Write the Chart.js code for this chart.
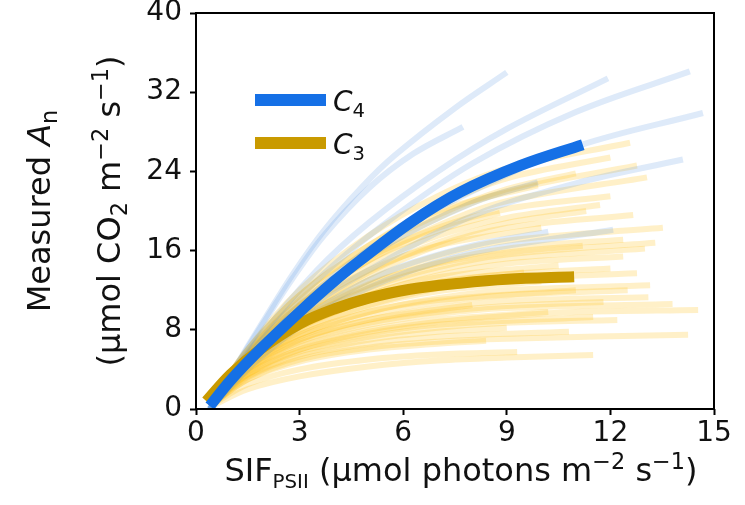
<!DOCTYPE html>
<html>
<head>
<meta charset="utf-8">
<script src="https://cdn.jsdelivr.net/npm/chart.js@4.4.1/dist/chart.umd.min.js"></script>
<style>
  html, body { margin: 0; padding: 0; background: #fff; }
  canvas { display: block; }
</style>
</head>
<body>
<canvas id="anChart" width="745" height="505"></canvas>
<script>
// tick positions
const xTicks = [0, 3, 6, 9, 12, 15];
const yTicks = [0, 8, 16, 24, 32, 40];

// group means, [SIF, An]
const c4Mean = [[0.4, 0.3], [1.0, 2.9], [1.85, 6.0], [3.0, 9.8], [4.0, 12.9], [4.75, 15.0], [6.2, 18.8], [7.65, 21.9], [9.4, 24.6], [11.2, 26.7]];
const c3Mean = [[0.3, 0.8], [1.0, 3.5], [1.85, 6.0], [3.0, 8.6], [4.0, 10.1], [5.0, 11.2], [6.2, 12.1], [7.65, 12.7], [9.0, 13.1], [10.95, 13.35]];

// single-leaf C4 curves
const c4Leaves = [
  [[0.4, 0], [1.2, 4.6], [1.9, 8.6], [2.8, 13.6], [3.7, 18.0], [4.8, 22.4], [5.75, 25.6], [7.5, 30.4], [9.0, 34.0]],
  [[0.4, 0], [1.2, 4.5], [1.9, 8.4], [2.8, 13.2], [3.7, 17.5], [5.0, 22.3], [6.3, 25.8], [7.73, 28.5]],
  [[0.4, 0], [1.8, 7.0], [3.5, 14.0], [5.0, 18.8], [7.0, 24.0], [9.0, 28.3], [11.93, 33.4]],
  [[0.4, 0], [1.8, 6.5], [3.5, 13.0], [5.5, 18.8], [8.0, 24.8], [11.0, 30.0], [14.3, 34.1]],
  [[0.4, 0], [1.8, 6.0], [3.5, 12.0], [5.5, 17.3], [8.0, 22.0], [11.0, 26.5], [14.68, 29.9]],
  [[0.4, 0], [1.8, 5.5], [3.5, 10.8], [5.5, 15.0], [8.0, 19.5], [11.0, 22.8], [14.1, 25.2]],
  [[0.4, 0], [1.8, 5.0], [3.5, 9.5], [5.5, 13.0], [8.0, 15.8], [12.08, 18.1]],
  [[0.4, 0], [1.8, 5.5], [3.5, 10.0], [5.5, 13.8], [8.0, 16.5], [10.2, 17.9]],
  [[0.4, 0], [1.8, 6.0], [3.5, 11.5], [5.5, 16.5], [8.0, 20.8], [9.9, 22.9]]
];

// single-leaf C3 curves
const c3Leaves = [
  [[0.4, 0.5], [1.5, 6.0], [3, 12.0], [5, 17.5], [7, 21.5], [9, 24.3], [12.57, 26.9]],
  [[0.4, 0.5], [1.5, 6.0], [3, 11.5], [5, 16.5], [7, 20.5], [9, 23.3], [12.0, 25.4]],
  [[0.4, 0.6], [1.5, 5.5], [3, 10.5], [5, 15.5], [7, 19.3], [9, 22.0], [12.77, 24.6]],
  [[0.4, 0.5], [1.5, 5.5], [3, 10.5], [5, 15.0], [7, 18.5], [9, 21.0], [13.06, 23.4]],
  [[0.4, 0.5], [1.5, 5.7], [3, 11.0], [5, 16.0], [7, 19.6], [9, 22.2], [11.0, 23.8]],
  [[0.4, 0.6], [1.5, 6.0], [3, 11.5], [5, 16.5], [7, 20.0], [9.9, 22.6]],
  [[0.4, 0.5], [1.5, 5.8], [3, 10.8], [5, 15.3], [7, 18.3], [9, 20.2], [12.0, 21.5]],
  [[0.4, 0.5], [1.5, 5.5], [3, 10.0], [5, 14.5], [7, 17.5], [9, 19.3], [11.7, 20.6]],
  [[0.4, 0.5], [1.5, 5.3], [3, 9.5], [5, 13.8], [7, 16.8], [9, 18.8], [11.3, 20.0]],
  [[0.4, 0.5], [1.5, 5.6], [3, 10.4], [5, 15.0], [7, 18.0], [8.8, 19.8]],
  [[0.4, 0.5], [1.5, 5.0], [3, 9.5], [5, 13.5], [7, 16.5], [9, 18.3], [12.66, 19.6]],
  [[0.4, 0.5], [1.5, 5.5], [3, 10.0], [5, 14.0], [7, 16.5], [10.0, 18.3]],
  [[0.4, 0.4], [1.5, 5.0], [3, 9.0], [5, 13.0], [7, 15.5], [9, 17.0], [13.52, 18.3]],
  [[0.4, 0.5], [1.5, 5.0], [3, 9.0], [5, 12.5], [7, 14.8], [9, 16.2], [12.37, 17.1]],
  [[0.4, 0.4], [1.5, 4.8], [3, 8.8], [5, 12.2], [7, 14.3], [9, 15.6], [13.3, 16.8]],
  [[0.4, 0.5], [1.5, 5.2], [3, 9.2], [5, 12.6], [7, 14.7], [9, 15.8], [11.2, 16.5]],
  [[0.4, 0.5], [1.5, 5.1], [3, 9.0], [5, 12.0], [7, 14.0], [9, 15.2], [13.0, 16.2]],
  [[0.4, 0.5], [1.5, 5.0], [3, 8.5], [5, 11.5], [7, 13.5], [9, 14.7], [12.37, 15.4]],
  [[0.4, 0.5], [1.5, 5.0], [3, 8.5], [5, 11.5], [7, 13.3], [10.5, 14.5]],
  [[0.4, 0.4], [1.5, 4.6], [3, 8.2], [5, 11.0], [7, 12.7], [9, 13.6], [12.0, 14.2]],
  [[0.4, 0.4], [1.5, 4.8], [3, 8.3], [5, 11.0], [7, 12.8], [9.5, 13.8]],
  [[0.4, 0.4], [1.5, 4.5], [3, 8.0], [5, 10.5], [7, 12.2], [9, 13.1], [12.77, 13.7]],
  [[0.4, 0.4], [1.5, 4.4], [3, 7.8], [5, 10.4], [7, 11.9], [10.0, 12.9]],
  [[0.4, 0.4], [1.5, 4.5], [3, 7.5], [5, 9.8], [7, 11.2], [9, 12.0], [13.15, 12.5]],
  [[0.4, 0.4], [1.5, 4.2], [3, 7.3], [5, 9.5], [7, 10.8], [9, 11.5], [12.5, 12.0]],
  [[0.4, 0.4], [1.5, 4.5], [3, 7.5], [5, 9.8], [7, 11.0], [11.0, 12.0]],
  [[0.4, 0.4], [1.5, 4.0], [3, 7.0], [5, 9.0], [7, 10.2], [9, 10.9], [13.1, 11.3]],
  [[0.4, 0.4], [1.5, 4.0], [3, 6.8], [5, 8.7], [7, 9.8], [9, 10.4], [11.8, 10.8]],
  [[0.4, 0.3], [1.5, 3.9], [3, 6.6], [5, 8.5], [7, 9.6], [9, 10.2], [13.8, 10.6]],
  [[0.4, 0.4], [1.5, 4.2], [3, 7.0], [5, 9.0], [8.0, 10.5]],
  [[0.4, 0.3], [1.5, 3.5], [3, 6.0], [5, 7.8], [7, 8.8], [9, 9.4], [11, 9.8], [14.54, 10.0]],
  [[0.4, 0.3], [1.5, 3.8], [3, 6.3], [5, 8.0], [7, 9.0], [10.2, 9.8]],
  [[0.4, 0.3], [1.5, 3.6], [3, 6.0], [5, 7.6], [7, 8.5], [11.5, 9.3]],
  [[0.4, 0.3], [1.5, 3.5], [3, 5.8], [5, 7.3], [7, 8.2], [9, 8.7], [12.2, 9.0]],
  [[0.4, 0.3], [1.5, 3.3], [3, 5.5], [5, 7.0], [7, 7.8], [9.0, 8.2]],
  [[0.4, 0.3], [1.5, 3.2], [3, 5.3], [5, 6.6], [7, 7.3], [10.8, 7.8]],
  [[0.4, 0.3], [1.5, 3.0], [3, 5.0], [5, 6.2], [7, 6.8], [9, 7.1], [14.25, 7.5]],
  [[0.4, 0.3], [1.5, 3.0], [3, 4.8], [5, 6.0], [7, 6.6], [8.4, 6.9]],
  [[0.4, 0.3], [1.5, 2.5], [3, 4.0], [5, 5.0], [7, 5.5], [9.3, 5.75]],
  [[0.4, 0.2], [1.5, 2.0], [3, 3.3], [5, 4.3], [7, 4.9], [9, 5.2], [11.5, 5.45]]
];

const C4_COLOR = '#1570e6';
const C3_COLOR = '#c99a00';
const FONT = 'DejaVu Sans';
const TICK_SIZE = 28;
const TITLE_SIZE = 32;

function toPoints(arr) {
  return arr.map(p => ({ x: p[0], y: p[1] }));
}

function curve(arr, color, width, order) {
  return {
    data: toPoints(arr),
    showLine: true,
    borderColor: color,
    borderWidth: width,
    pointRadius: 0,
    tension: 0.35,
    order: order
  };
}

const datasets = [
  Object.assign(curve(c4Mean, C4_COLOR, 11, 0), { label: 'C4' }),
  Object.assign(curve(c3Mean, C3_COLOR, 11, 1), { label: 'C3' })
];
c4Leaves.forEach(l => datasets.push(curve(l, 'rgba(90,150,225,0.2)', 6, 2)));
c3Leaves.forEach(l => datasets.push(curve(l, 'rgba(255,192,25,0.24)', 6, 3)));

// text with italic / sub / superscript pieces, centred on x
function drawRich(ctx, parts, x, y, size) {
  const pieces = parts.map(p => {
    const s = p.sub || p.sup ? size * (p.small || 0.7) : size;
    const font = (p.italic ? 'italic ' : '') + s + 'px "' + FONT + '"';
    ctx.font = font;
    return { t: p.t, font: font, w: ctx.measureText(p.t).width,
             dy: p.sub ? size * 0.22 : (p.sup ? -size * 0.38 : 0) };
  });
  const total = pieces.reduce((s, p) => s + p.w, 0);
  let cx = x - total / 2;
  ctx.textAlign = 'left';
  ctx.textBaseline = 'alphabetic';
  pieces.forEach(p => {
    ctx.font = p.font;
    ctx.fillText(p.t, cx, y + p.dy);
    cx += p.w;
  });
}

const decorations = {
  id: 'decorations',
  afterDraw(chart) {
    const ctx = chart.ctx;
    const a = chart.chartArea;
    ctx.save();
    // frame
    ctx.strokeStyle = '#000';
    ctx.lineWidth = 2;
    ctx.strokeRect(a.left, a.top, a.right - a.left, a.bottom - a.top);

    ctx.fillStyle = '#111';
    // x title
    drawRich(ctx, [
      { t: 'SIF' }, { t: 'PSII', sub: true, small: 0.62 },
      { t: ' (µmol photons m' }, { t: '−2', sup: true }, { t: ' s' }, { t: '−1', sup: true }, { t: ')' }
    ], (a.left + a.right) / 2 + 6, 481, TITLE_SIZE);

    // y title, two lines
    const cy = (a.top + a.bottom) / 2;
    ctx.save();
    ctx.translate(50, cy);
    ctx.rotate(-Math.PI / 2);
    drawRich(ctx, [{ t: 'Measured ' }, { t: 'A', italic: true }, { t: 'n', sub: true }], 0, 0, TITLE_SIZE);
    ctx.restore();
    ctx.save();
    ctx.translate(120, cy);
    ctx.rotate(-Math.PI / 2);
    drawRich(ctx, [
      { t: '(µmol CO' }, { t: '2', sub: true }, { t: ' m' }, { t: '−2', sup: true },
      { t: ' s' }, { t: '−1', sup: true }, { t: ')' }
    ], 0, 0, TITLE_SIZE);
    ctx.restore();

    // legend
    const items = [
      { color: C4_COLOR, sub: '4', y: 100 },
      { color: C3_COLOR, sub: '3', y: 143 }
    ];
    items.forEach(it => {
      ctx.fillStyle = it.color;
      ctx.fillRect(255, it.y - 6, 71, 12);
      ctx.fillStyle = '#111';
      ctx.font = 'italic ' + TICK_SIZE + 'px "' + FONT + '"';
      ctx.textAlign = 'left';
      ctx.textBaseline = 'alphabetic';
      ctx.fillText('C', 333, it.y + 11);
      const w = ctx.measureText('C').width;
      ctx.font = (TICK_SIZE * 0.7) + 'px "' + FONT + '"';
      ctx.fillText(it.sub, 333 + w, it.y + 11 + TICK_SIZE * 0.22);
    });
    ctx.restore();
  }
};

const tickFont = { family: FONT, size: TICK_SIZE };

function noOverhang(s) {
  s.paddingTop = 0;
  s.paddingBottom = 0;
  s.paddingLeft = 0;
  s.paddingRight = 0;
}

new Chart(document.getElementById('anChart'), {
  type: 'scatter',
  data: { datasets: datasets },
  options: {
    responsive: false,
    devicePixelRatio: 1,
    animation: false,
    layout: { padding: { top: 13, right: 31, left: 0, bottom: 0 } },
    plugins: { legend: { display: false }, tooltip: { enabled: false } },
    scales: {
      x: {
        type: 'linear',
        min: 0, max: 15,
        afterBuildTicks: s => { s.ticks = xTicks.map(v => ({ value: v })); },
        afterFit: s => { s.height = 96; noOverhang(s); },
        border: { display: false },
        grid: { drawOnChartArea: false, drawTicks: true, tickLength: 6, tickWidth: 2, tickColor: '#000' },
        ticks: { font: tickFont, color: '#111', padding: 2, maxRotation: 0 }
      },
      y: {
        type: 'linear',
        min: 0, max: 40,
        afterBuildTicks: s => { s.ticks = yTicks.map(v => ({ value: v })); },
        afterFit: s => { s.width = 196; noOverhang(s); },
        border: { display: false },
        grid: { drawOnChartArea: false, drawTicks: true, tickLength: 6, tickWidth: 2, tickColor: '#000' },
        ticks: { font: tickFont, color: '#111', padding: 8 }
      }
    }
  },
  plugins: [decorations]
});
</script>
</body>
</html>
